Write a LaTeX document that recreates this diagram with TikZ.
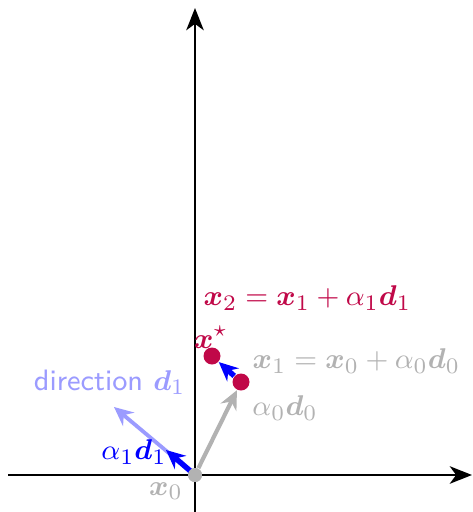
\documentclass[tikz,border=0pt]{standalone}
\usepackage{amsmath,bm}
\usetikzlibrary{arrows.meta}
\definecolor{myred}{RGB}{192,8,72}
\definecolor{mygray}{RGB}{178,178,178}
\definecolor{lightblue}{RGB}{155,155,255}
\begin{document}
\begin{tikzpicture}[x=0.315pt,y=-0.315pt,
  axis/.style={line width=0.8pt,-{Stealth[length=7pt,width=5.5pt,inset=2pt]}},
  dotnode/.style={circle,inner sep=0pt,minimum size=#1},
  vec/.style={line width=#1,-{Stealth[length=6pt,width=5.5pt,inset=2pt]}},
  lbl/.style={inner sep=0pt,font=\fontsize{9.3}{11}\selectfont}]
\useasboundingbox (0,0) rectangle (473,512);
% axes
\coordinate (hl) at (8,475);
\coordinate (hr) at (472,475);
\coordinate (vb) at (195,512);
\coordinate (vt) at (195,8);
\draw[axis] (hl) -- (hr);
\draw[axis] (vb) -- (vt);
% points
\node[dotnode=14*0.315pt, fill=mygray] (x0) at (195,475) {};
\node[dotnode=17*0.315pt, fill=myred] (x1) at (241,382) {};
\node[dotnode=17*0.315pt, fill=myred] (xs) at (212,356) {};
\coordinate (dir) at (114,407);
\coordinate (a1d1) at (166,450);
% vectors
\draw[vec=1.2pt, lightblue] (x0.center) -- (dir);
\draw[vec=1.3pt, mygray] (x0) -- (x1);
\draw[vec=1.7pt, blue] (x0.center) -- (a1d1);
\draw[vec=1.7pt, blue] (x1) -- (xs);
\node[dotnode=14*0.315pt, fill=mygray] at (x0) {};
% labels
\node[lbl, anchor=west, text=myred] (l2) at (203,298) {$\bm{x}_2=\bm{x}_1+\alpha_1\bm{d}_1$};
\node[lbl, text=myred] (lstar) at (211,337) {$\bm{x}^\star$};
\node[lbl, anchor=west, text=mygray] (l1) at (252,361) {$\bm{x}_1=\bm{x}_0+\alpha_0\bm{d}_0$};
\node[lbl, text=mygray] (la0) at (285,408) {$\alpha_0\bm{d}_0$};
\node[lbl, anchor=east, text=lightblue] (ldir) at (186,382) {\sffamily direction $\bm{d}_1$};
\node[lbl, text=blue] (la1) at (134,452) {$\alpha_1\bm{d}_1$};
\node[lbl, text=mygray] (lx0) at (166,491) {$\bm{x}_0$};
\end{tikzpicture}
\end{document}
